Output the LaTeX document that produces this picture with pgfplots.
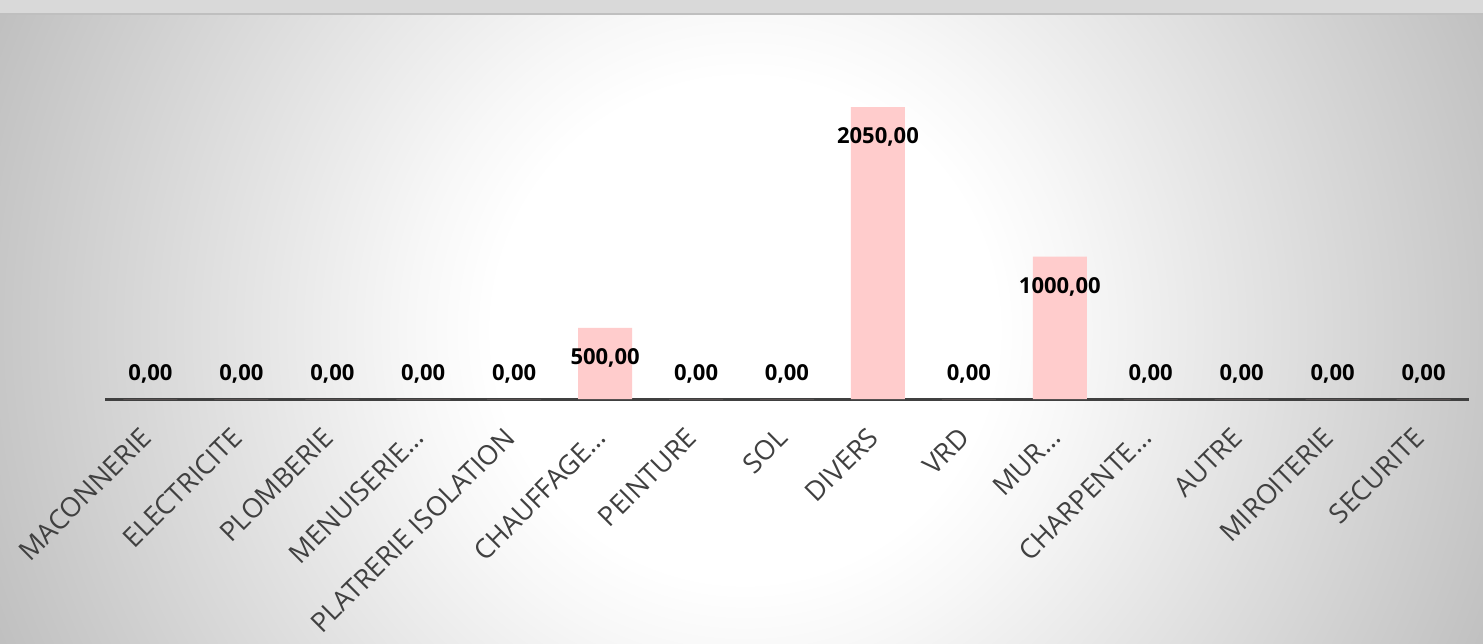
\documentclass[border=0pt]{standalone}
\usepackage{pgfplots}
\pgfplotsset{compat=1.18}
\usepackage{pgfplotstable}
\usepackage{fontspec}
\setmainfont{Open Sans}
\definecolor{barpink}{HTML}{FFCCCC}
\definecolor{axisgray}{HTML}{404040}
\definecolor{labgray}{HTML}{404040}
\definecolor{topgray}{HTML}{D9D9D9}
\definecolor{topline}{HTML}{BFBFBF}
\pgfdeclareradialshading{bgshade}{\pgfpoint{0bp}{0bp}}{color(0bp)=(white); color(125bp)=(white); color(165bp)=(white!97!black); color(372bp)=(white!78!black); color(405bp)=(white!75!black)}
\pgfplotstableread{
x y
0 0
1 0
2 0
3 0
4 0
5 500
6 0
7 0
8 2050
9 0
10 1000
11 0
12 0
13 0
14 0
}\datatable
\begin{document}
\begin{tikzpicture}[x=1pt,y=1pt]
\fill[white!75!black] (0,0) rectangle (741.5,321.5);
\begin{scope}
\clip (0,0) rectangle (741.5,321.5);
\node[inner sep=0pt, outer sep=0pt, anchor=center] at (372.5,156.5) {\pgfuseshading{bgshade}};
\end{scope}
\fill[topgray] (0,315) rectangle (741.5,321.5);
\draw[topline, line width=1pt] (0,314.5) -- (741.5,314.5);
\begin{axis}[
  at={(52.5pt,122pt)}, anchor=south west,
  scale only axis, width=682pt, height=169.5pt,
  xmin=-0.5, xmax=14.5, ymin=0, ymax=2380,
  enlargelimits=false, clip=false,
  hide y axis, axis x line*=bottom,
  x axis line style={axisgray, line width=1.5pt, -},
  major tick length=0,
  xtick={0,...,14},
  xticklabels={MACONNERIE,ELECTRICITE,PLOMBERIE,MENUISERIE…,PLATRERIE ISOLATION,CHAUFFAGE…,PEINTURE,SOL,DIVERS,VRD,MUR…,CHARPENTE…,AUTRE,MIROITERIE,SECURITE},
  xticklabel style={rotate=45, anchor=east, font=\fontsize{13.5}{13.5}\selectfont, text=labgray, xshift=-10pt, yshift=-10.5pt},
  ybar, bar width=27pt,
  point meta=y,
  visualization depends on={rawy \as \rawy},
  nodes near coords={\pgfmathprintnumber[fixed,fixed zerofill,precision=2,use comma,1000 sep={},assume math mode=true]{\pgfplotspointmeta}},
  every node near coord/.append style={font=\bfseries\fontsize{11}{11}\selectfont, text=black, anchor=center, yshift={ifthenelse(\rawy>0,-15,12.5)*1pt}},
]
\addplot[fill=barpink, draw=none] table[x=x,y=y] {\datatable};
\end{axis}
\pgfresetboundingbox
\path[use as bounding box] (0,0) rectangle (741.5,321.5);
\end{tikzpicture}
\end{document}
